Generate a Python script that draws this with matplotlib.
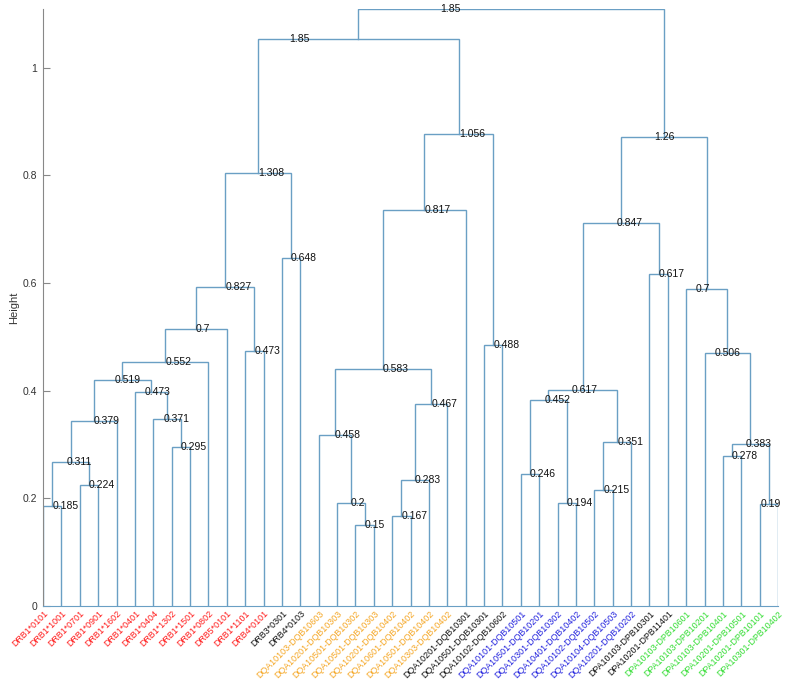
import matplotlib
matplotlib.use("Agg")
import matplotlib.pyplot as plt

plt.rcParams["font.family"] = ["Liberation Sans", "DejaVu Sans"]

# ------------------------------------------------------------
# Dados: folhas (na ordem do dendrograma) e cores das etiquetas
# ------------------------------------------------------------
leaves = [
    "DRB1*0101", "DRB1*1001", "DRB1*0701", "DRB1*0901", "DRB1*1602",
    "DRB1*0401", "DRB1*0404", "DRB1*1302", "DRB1*1501", "DRB1*0802",
    "DRB5*0101", "DRB1*1101", "DRB4*0101",
    "DRB3*0301", "DRB4*0103",
    "DQA10103-DQB10603", "DQA10201-DQB10303", "DQA10501-DQB10302",
    "DQA10501-DQB10303", "DQA10201-DQB10402", "DQA10601-DQB10402",
    "DQA10501-DQB10402", "DQA10303-DQB10402",
    "DQA10201-DQB10301", "DQA10501-DQB10301", "DQA10102-DQB10602",
    "DQA10101-DQB10501", "DQA10501-DQB10201", "DQA10301-DQB10302",
    "DQA10401-DQB10402", "DQA10102-DQB10502", "DQA10104-DQB10503",
    "DQA10201-DQB10202",
    "DPA10103-DPB10301", "DPA10201-DPB11401",
    "DPA10103-DPB10601", "DPA10103-DPB10201", "DPA10103-DPB10401",
    "DPA10201-DPB10501", "DPA10201-DPB10101", "DPA10301-DPB10402",
]
leaf_groups = [13, 2, 8, 3, 7, 2, 6]
group_colors = ["#ff1a1a", "#111111", "#f5a623", "#111111", "#2222dd", "#111111", "#33dd33"]

# Fusões: filho esquerdo, filho direito (ids < 41 = folhas, >= 41 = nós anteriores)
left_child = [0, 2, 41, 43, 7, 6, 5, 44, 48, 49, 11, 50, 13, 52,
              17, 16, 15, 19, 58, 59, 57, 61, 24, 62, 54,
              26, 28, 66, 30, 69, 68, 33, 71, 37, 39, 74, 36, 35, 73, 65]
right_child = [1, 3, 42, 4, 8, 45, 46, 47, 9, 10, 12, 51, 14, 53,
               18, 55, 56, 20, 21, 22, 60, 23, 25, 63, 64,
               27, 29, 67, 31, 32, 70, 34, 72, 38, 40, 75, 76, 77, 78, 79]
heights = [0.186, 0.224, 0.268, 0.344, 0.295, 0.348, 0.397, 0.419, 0.453, 0.514,
           0.474, 0.593, 0.647, 0.805,
           0.151, 0.191, 0.318, 0.167, 0.234, 0.375, 0.440, 0.735, 0.484, 0.877, 1.054,
           0.245, 0.192, 0.382, 0.216, 0.305, 0.401, 0.617, 0.711, 0.278, 0.189,
           0.301, 0.470, 0.589, 0.872, 1.109]
node_labels = ["0.185", "0.224", "0.311", "0.379", "0.295", "0.371", "0.473", "0.519",
               "0.552", "0.7", "0.473", "0.827", "0.648", "1.308",
               "0.15", "0.2", "0.458", "0.167", "0.283", "0.467", "0.583", "0.817",
               "0.488", "1.056", "1.85",
               "0.246", "0.194", "0.452", "0.215", "0.351", "0.617", "0.617", "0.847",
               "0.278", "0.19", "0.383", "0.506", "0.7", "1.26", "1.85"]
# pequeno deslocamento horizontal de algumas etiquetas (em unidades de folha)
label_shift = {2: -0.2, 5: -0.2, 6: -0.33, 7: -0.4, 24: -3.75, 27: -0.2, 30: -0.6,
               32: -0.2, 34: -0.45, 35: -0.25, 36: -0.7, 37: -0.6, 38: -0.5, 39: -3.85}

yticks = [0, 0.2, 0.4, 0.6, 0.8, 1]
ytick_labels = ["0", "0.2", "0.4", "0.6", "0.8", "1"]

line_color = "#6a9fc4"
n = len(leaves)

# ------------------------------------------------------------
# Figura
# ------------------------------------------------------------
fig = plt.figure(figsize=(7.88, 6.86), dpi=100)
ax = fig.add_axes([43 / 788, 80 / 686, 735 / 788, 597 / 686])

pos = {i: float(i) for i in range(n)}
hgt = {i: 0.0 for i in range(n)}

for k, (a, b, h) in enumerate(zip(left_child, right_child, heights)):
    xa, xb = pos[a], pos[b]
    ax.plot([xa, xa, xb, xb], [hgt[a], h, h, hgt[b]], color=line_color, lw=1.0,
            solid_joinstyle="miter")
    node = n + k
    pos[node] = (xa + xb) / 2
    hgt[node] = h
    ax.text(pos[node] + label_shift.get(k, 0), h, node_labels[k], fontsize=7.5,
            ha="left", va="center", color="#111111")

# etiquetas das folhas
colors = []
for g, c in zip(leaf_groups, group_colors):
    colors += [c] * g
for i, (name, c) in enumerate(zip(leaves, colors)):
    ax.annotate(name, xy=(i, 0), xytext=(2.5, -4.5), textcoords="offset points",
                rotation=45, rotation_mode="anchor", ha="right", va="center",
                fontsize=6.4, color=c, annotation_clip=False)

ax.set_xlim(0, n - 1)
ax.set_ylim(0, heights[-1])
ax.set_xticks([])
ax.set_yticks(yticks)
ax.set_yticklabels(ytick_labels)
ax.tick_params(axis="y", direction="in", length=5, color="#888888",
               labelsize=7.5, labelcolor="#333333", pad=4)
ax.set_ylabel("Height", fontsize=8, color="#333333", labelpad=3)

ax.spines["top"].set_visible(False)
ax.spines["right"].set_visible(False)
ax.spines["left"].set_color("#888888")
ax.spines["bottom"].set_color(line_color)

plt.savefig("out.png", dpi=100)
plt.close()
